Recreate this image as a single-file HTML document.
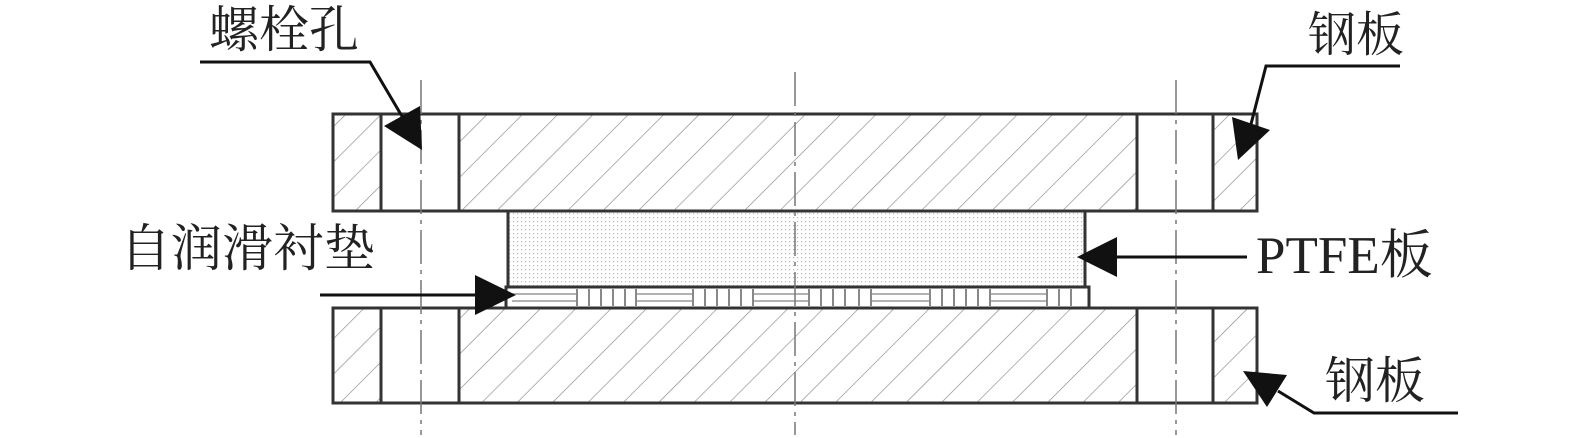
<!DOCTYPE html>
<html><head><meta charset="utf-8"><style>
html,body{margin:0;padding:0;background:#fff;}
svg{display:block}
text{font-family:"Liberation Serif","Noto Serif CJK SC",serif;fill:#222}
</style></head><body>
<svg width="1575" height="438" viewBox="0 0 1575 438" xmlns="http://www.w3.org/2000/svg">
<defs>
<pattern id="h" patternUnits="userSpaceOnUse" width="25" height="25" patternTransform="rotate(45)">
<line x1="0" y1="0" x2="0" y2="25" stroke="#888" stroke-width="1.3"/>
</pattern>
<pattern id="d" patternUnits="userSpaceOnUse" width="4" height="4">
<rect x="1" y="1" width="1.2" height="1.2" fill="#bbb"/>
</pattern>
</defs>
<g stroke="#333" stroke-width="3">
<rect x="333" y="114" width="48" height="97" fill="url(#h)"/>
<rect x="381" y="114" width="78" height="97" fill="#fff"/>
<rect x="459" y="114" width="678" height="97" fill="url(#h)"/>
<rect x="1137" y="114" width="76" height="97" fill="#fff"/>
<rect x="1213" y="114" width="44" height="97" fill="url(#h)"/>
<rect x="333" y="308" width="48" height="95" fill="url(#h)"/>
<rect x="381" y="308" width="78" height="95" fill="#fff"/>
<rect x="459" y="308" width="678" height="95" fill="url(#h)"/>
<rect x="1137" y="308" width="76" height="95" fill="#fff"/>
<rect x="1213" y="308" width="44" height="95" fill="url(#h)"/>
<rect x="508" y="211" width="577" height="76" fill="url(#d)"/>
<rect x="506" y="287" width="583" height="21" fill="#fff"/>
</g>
<g stroke="#999" stroke-width="1.5">
<line x1="512" y1="294" x2="1085" y2="294"/><line x1="512" y1="301" x2="1085" y2="301"/>
</g>
<g fill="#fff" stroke="none">
<rect x="577" y="289" width="59" height="17"/>
<rect x="693" y="289" width="60" height="17"/>
<rect x="809" y="289" width="62" height="17"/>
<rect x="930" y="289" width="60" height="17"/>
<rect x="1047" y="289" width="40" height="17"/>
</g>
<g stroke="#888" stroke-width="2">
<path d="M577 289v17M589 289v17M601 289v17M613 289v17M625 289v17M636 289v17M693 289v17M705 289v17M717 289v17M729 289v17M741 289v17M753 289v17M809 289v17M821 289v17M833 289v17M845 289v17M859 289v17M871 289v17M930 289v17M942 289v17M954 289v17M966 289v17M978 289v17M990 289v17M1047 289v17M1059 289v17M1071 289v17"/>
</g>
<g stroke="#777" stroke-width="1.5" stroke-dasharray="34,6,4,6" fill="none">
<line x1="421" y1="80" x2="421" y2="435"/>
<line x1="795" y1="72" x2="795" y2="435"/>
<line x1="1176" y1="80" x2="1176" y2="435"/>
</g>
<g stroke="#111" stroke-width="3" fill="none">
<polyline points="200,62 370,62 403,118"/>
<polyline points="1400,66 1266,66 1250,128"/>
<line x1="1117" y1="257" x2="1247" y2="257"/>
<line x1="320" y1="295" x2="478" y2="295"/>
<polyline points="1458,413 1314,413 1278,391"/>
</g>
<g fill="#111">
<polygon points="384,126 420,106 422,150"/>
<polygon points="1238,160 1232,117 1270,130"/>
<polygon points="1077,257 1117,237 1117,277"/>
<polygon points="516,295 475,275 475,315"/>
<polygon points="1243,371 1287,375 1267,407"/>
</g>
<text x="209" y="47" font-size="50">螺栓孔</text>
<text x="1308" y="51" font-size="48">钢板</text>
<text x="120" y="266" font-size="51">自润滑衬垫</text>
<text x="1256" y="273" font-size="53">PTFE板</text>
<text x="1325" y="398" font-size="50">钢板</text>
</svg>
</body></html>
